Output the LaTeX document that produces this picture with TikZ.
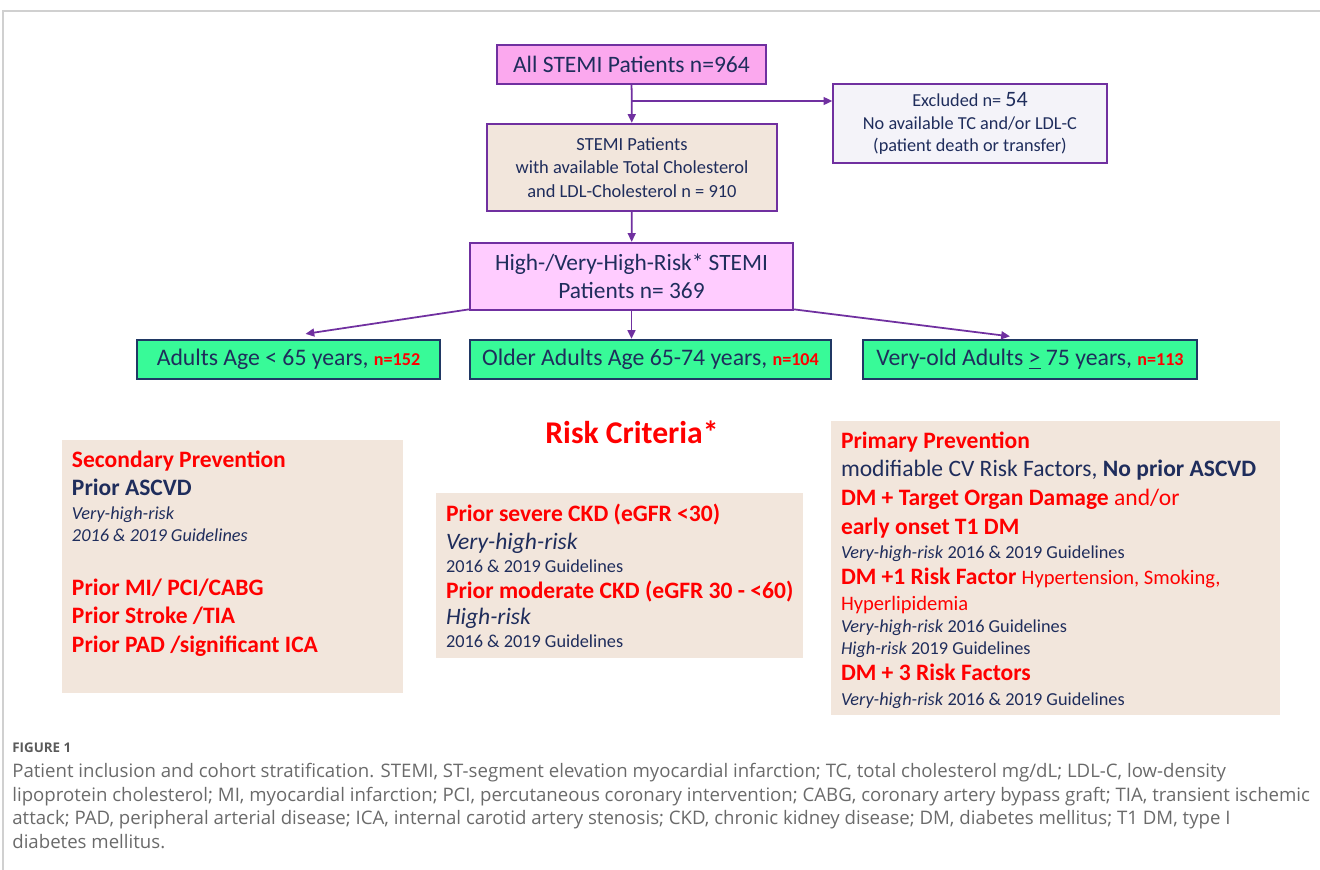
\documentclass[tikz,border=0pt]{standalone}
\usepackage{fontspec}
\setmainfont{Carlito}
\newfontfamily\captionfont{Open Sans}
\usetikzlibrary{arrows.meta}
\definecolor{flowviolet}{HTML}{7030A0}
\definecolor{allpink}{HTML}{FBA8EE}
\definecolor{riskpink}{HTML}{FFCCFF}
\definecolor{panelbeige}{HTML}{F2E6DC}
\definecolor{exclgrey}{HTML}{F4F3F9}
\definecolor{agegreen}{HTML}{38FA98}
\definecolor{ageborder}{HTML}{203864}
\definecolor{navytext}{HTML}{1F2D5C}
\definecolor{riskred}{HTML}{FF0000}
\definecolor{captiongrey}{HTML}{6A6A6A}
\definecolor{framegrey}{HTML}{D0D0D0}
\newcommand{\redbf}[1]{\textcolor{riskred}{\bfseries #1}}
\newcommand{\guide}[1]{{\fontsize{10.4}{12}\selectfont #1}}
\newcommand{\nval}[1]{{\fontsize{10.3}{12}\selectfont\redbf{#1}}}

\begin{document}
\begin{tikzpicture}[>={Triangle[length=5pt,width=4.5pt]},
    flowbox/.style={draw=flowviolet, line width=1.3pt, inner sep=0pt, align=center, text=navytext},
    agebox/.style={draw=ageborder, fill=agegreen, line width=1.3pt, inner sep=0pt, minimum height=0.78cm, text=navytext, font=\fontsize{13.5}{15}\selectfont},
    panel/.style={fill=panelbeige, inner sep=0pt},
    paneltext/.style={anchor=north west, align=left, inner sep=0pt, text=navytext, font=\fontsize{13.4}{16.4}\selectfont},
    link/.style={->, draw=flowviolet, line width=1pt}]
    \useasboundingbox (0,0) rectangle (26.4,-17.4);
    \draw[framegrey, line width=0.8pt] (0.06,-17.4) -- (0.06,-0.22) -- (26.4,-0.22);

    % flow chart
    \node[flowbox, fill=allpink, minimum width=5.38cm, minimum height=0.78cm, font=\fontsize{13.4}{15}\selectfont] (all) at (12.63,-1.29) {All STEMI Patients n=964};
    \node[flowbox, fill=exclgrey, line width=0.8pt, minimum width=5.48cm, minimum height=1.58cm, font=\fontsize{10.4}{13}\selectfont] (excl) at (19.40,-2.47)
        {Excluded n= {\fontsize{12.5}{13}\selectfont 54}\\ No available TC and/or LDL-C\\ (patient death or transfer)};
    \node[flowbox, fill=panelbeige, minimum width=5.80cm, minimum height=1.74cm, font=\fontsize{10.5}{13.4}\selectfont] (avail) at (12.64,-3.35)
        {STEMI Patients\\ with available Total Cholesterol\\ and LDL-Cholesterol n = 910};
    \node[flowbox, fill=riskpink, minimum width=6.46cm, minimum height=1.34cm, font=\fontsize{13.3}{16}\selectfont] (high) at (12.63,-5.53)
        {High-/Very-High-Risk* STEMI\\ Patients n= 369};

    \node[agebox, minimum width=6.06cm] (young) at (5.77,-7.19) {Adults Age < 65 years, \nval{n=152}};
    \node[agebox, minimum width=7.22cm] (older) at (13.01,-7.19) {Older Adults Age 65-74 years, \nval{n=104}};
    \node[agebox, minimum width=6.68cm] (vold) at (20.60,-7.19) {Very-old Adults \underline{>} 75 years, \nval{n=113}};

    \coordinate (split) at (12.63,-2.02);
    \draw[link] (all) -- (avail);
    \draw[link] (split) -- (excl.west |- split);
    \draw[link] (avail) -- (high);
    \draw[link] (high.south) -- (high.south |- older.north);
    \draw[link] ([yshift=1pt]high.south west) -- ([xshift=3.4mm,yshift=1mm]young.north);
    \draw[link] ([yshift=1pt]high.south east) -- ([xshift=-4mm,yshift=0.5mm]vold.north);

    % risk criteria
    \node[text=riskred, font=\fontsize{18}{20}\selectfont\bfseries] (criteria) at (12.64,-8.64) {Risk Criteria*};

    \node[panel, minimum width=6.82cm, minimum height=5.06cm] (secondary) at (4.65,-11.33) {};
    \node[paneltext] (secondarytext) at ([shift={(0.2,-0.21)}]secondary.north west)
        {\redbf{Secondary Prevention}\\
         {\bfseries Prior ASCVD}\\[-2.8pt]
         \guide{\itshape Very-high-risk}\\[-3.9pt]
         \guide{\itshape 2016 \& 2019 Guidelines}\\[14.2pt]
         \redbf{Prior MI/ PCI/CABG}\\[-0.5pt]
         \redbf{Prior Stroke /TIA}\\
         \redbf{Prior PAD /significant ICA}};

    \node[panel, minimum width=7.34cm, minimum height=3.30cm] (ckd) at (12.39,-11.51) {};
    \node[paneltext] (ckdtext) at ([shift={(0.2,-0.22)}]ckd.north west)
        {\redbf{Prior severe CKD (eGFR <30)}\\[-0.5pt]
         {\itshape Very-high-risk}\\[-3.4pt]
         \guide{2016 \& 2019 Guidelines}\\[-1.7pt]
         \redbf{Prior moderate CKD (eGFR 30 - <60)}\\[-1.1pt]
         {\itshape High-risk}\\[-3.4pt]
         \guide{2016 \& 2019 Guidelines}};

    \node[panel, minimum width=8.98cm, minimum height=5.88cm] (primary) at (21.11,-11.36) {};
    \node[paneltext] (primarytext) at ([shift={(0.2,-0.21)}]primary.north west)
        {\redbf{Primary Prevention}\\
         modifiable CV Risk Factors, {\bfseries No prior ASCVD}\\
         \redbf{DM + Target Organ Damage} \textcolor{riskred}{and/or}\\
         \redbf{early onset T1 DM}\\[-2.8pt]
         \guide{\textit{Very-high-risk} 2016 \& 2019 Guidelines}\\[-1.7pt]
         \redbf{DM +1 Risk Factor} {\fontsize{11.7}{13}\selectfont\textcolor{riskred}{Hypertension, Smoking,}}\\[-1.7pt]
         {\fontsize{11.7}{13}\selectfont\textcolor{riskred}{Hyperlipidemia}}\\[-3.4pt]
         \guide{\textit{Very-high-risk} 2016 Guidelines}\\[-3.9pt]
         \guide{\textit{High-risk} 2019 Guidelines}\\[-1.7pt]
         \redbf{DM + 3 Risk Factors}\\[-2.2pt]
         \guide{\textit{Very-high-risk} 2016 \& 2019 Guidelines}};

    % caption
    \node[anchor=north west, inner sep=0pt, text=captiongrey!85!black, font=\captionfont\bfseries\fontsize{7.6}{9}\selectfont] (figlabel) at (0.24,-14.84) {FIGURE 1};
    \node[anchor=north west, align=left, inner sep=0pt, text=captiongrey, font=\captionfont\fontsize{10.6}{13.6}\selectfont] (caption) at (0.24,-15.25)
        {Patient inclusion and cohort stratification. STEMI, ST-segment elevation myocardial infarction; TC, total cholesterol mg/dL; LDL-C, low-density\\
         lipoprotein cholesterol; MI, myocardial infarction; PCI, percutaneous coronary intervention; CABG, coronary artery bypass graft; TIA, transient ischemic\\
         attack; PAD, peripheral arterial disease; ICA, internal carotid artery stenosis; CKD, chronic kidney disease; DM, diabetes mellitus; T1 DM, type I\\
         diabetes mellitus.};
\end{tikzpicture}
\end{document}
